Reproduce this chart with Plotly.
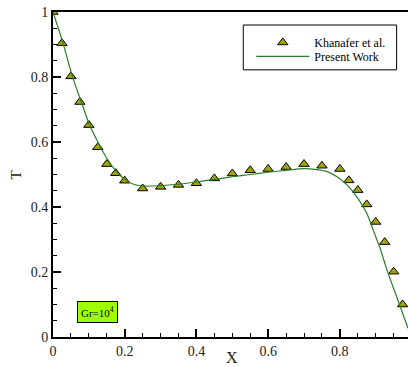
import plotly.graph_objects as go

# Khanafer et al. (symbols)
kh_x = [0.0, 0.025, 0.05, 0.075, 0.1, 0.125, 0.15, 0.175, 0.2, 0.25, 0.3, 0.35,
        0.4, 0.45, 0.5, 0.55, 0.6, 0.65, 0.7, 0.75, 0.8, 0.825, 0.85, 0.875,
        0.9, 0.925, 0.95, 0.975]
kh_T = [1.0, 0.904, 0.802, 0.723, 0.652, 0.584, 0.532, 0.504, 0.481, 0.457, 0.462, 0.468,
        0.473, 0.488, 0.503, 0.513, 0.517, 0.523, 0.532, 0.527, 0.517, 0.482, 0.452, 0.408,
        0.354, 0.292, 0.201, 0.10]

# Present Work (line)
pw_x = [0.0, 0.028, 0.054, 0.079, 0.102, 0.125, 0.15, 0.175, 0.2, 0.225, 0.26, 0.3,
        0.35, 0.4, 0.45, 0.5, 0.55, 0.6, 0.65, 0.7, 0.73, 0.765, 0.792, 0.82,
        0.847, 0.875, 0.893, 0.913, 0.933, 0.955, 0.99]
pw_T = [1.0, 0.904, 0.802, 0.723, 0.652, 0.600, 0.550, 0.512, 0.485, 0.470, 0.464, 0.466,
        0.470, 0.477, 0.485, 0.493, 0.500, 0.507, 0.513, 0.518, 0.516, 0.509, 0.493, 0.468,
        0.432, 0.381, 0.329, 0.270, 0.201, 0.134, 0.027]

x_ticks = [0, 0.2, 0.4, 0.6, 0.8]
y_ticks = [0, 0.2, 0.4, 0.6, 0.8, 1]

FONT = "Liberation Serif"

fig = go.Figure()
fig.add_trace(go.Scatter(
    x=kh_x, y=kh_T, mode="markers", name="Khanafer et al.", legend="legend",
    marker=dict(symbol="triangle-up", size=9, color="#a3a300",
                line=dict(color="black", width=1)),
))
fig.add_trace(go.Scatter(
    x=pw_x, y=pw_T, mode="lines", name="Present Work", legend="legend2",
    line=dict(color="#2a7f2a", width=1.2, shape="spline", smoothing=0.8),
))

axis_common = dict(
    showgrid=False, zeroline=False, showline=True, linecolor="black", linewidth=2,
    ticks="inside", ticklen=8, tickwidth=2, tickcolor="black", automargin=False,
    tickfont=dict(family=FONT, size=14, color="#222"),
)

fig.update_xaxes(
    range=[0, 0.99], tickvals=x_ticks, mirror=True,
    minor=dict(dtick=0.05, ticks="inside", ticklen=4, tickwidth=1, tickcolor="black"),
    **axis_common,
)
fig.update_yaxes(
    range=[0, 1], tickvals=y_ticks,
    minor=dict(dtick=0.05, ticks="inside", ticklen=4, tickwidth=1, tickcolor="black"),
    **axis_common,
)

# axis titles
fig.add_annotation(xref="paper", yref="paper", x=0.504, y=0, yshift=-20,
                   xanchor="center", yanchor="middle", text="X", showarrow=False,
                   font=dict(family=FONT, size=16, color="#222"))
fig.add_annotation(xref="paper", yref="paper", x=0, xshift=-38, y=0.5, yshift=-1,
                   xanchor="center", yanchor="middle", text="T", showarrow=False,
                   textangle=-90, font=dict(family=FONT, size=15, color="#222"))

# legend box
fig.add_shape(type="rect", xref="paper", yref="paper",
              x0=0.536, x1=0.968, y0=0.822, y1=0.96,
              line=dict(color="black", width=1), fillcolor="rgba(0,0,0,0)")

fig.add_annotation(xref="paper", yref="paper", x=0.125, y=0.078,
                   xanchor="center", yanchor="middle",
                   text="Gr=10<sup>4</sup>", showarrow=False,
                   font=dict(family=FONT, size=11, color="black"),
                   bgcolor="#9dff00", bordercolor="black", borderwidth=1, borderpad=3)

leg_common = dict(xanchor="left", yanchor="top", bgcolor="rgba(0,0,0,0)", borderwidth=0,
                  font=dict(family=FONT, size=12, color="black"), itemwidth=53)

fig.update_layout(
    width=408, height=367,
    margin=dict(l=53, r=0, t=12, b=30),
    paper_bgcolor="white", plot_bgcolor="white",
    showlegend=True,
    legend=dict(x=0.5585, y=0.951, **leg_common),
    legend2=dict(x=0.5585, y=0.908, **leg_common),
)

fig.write_html("out.html", config={"displayModeBar": False},
               post_script="document.body.style.margin='0';document.body.style.overflow='hidden';")
